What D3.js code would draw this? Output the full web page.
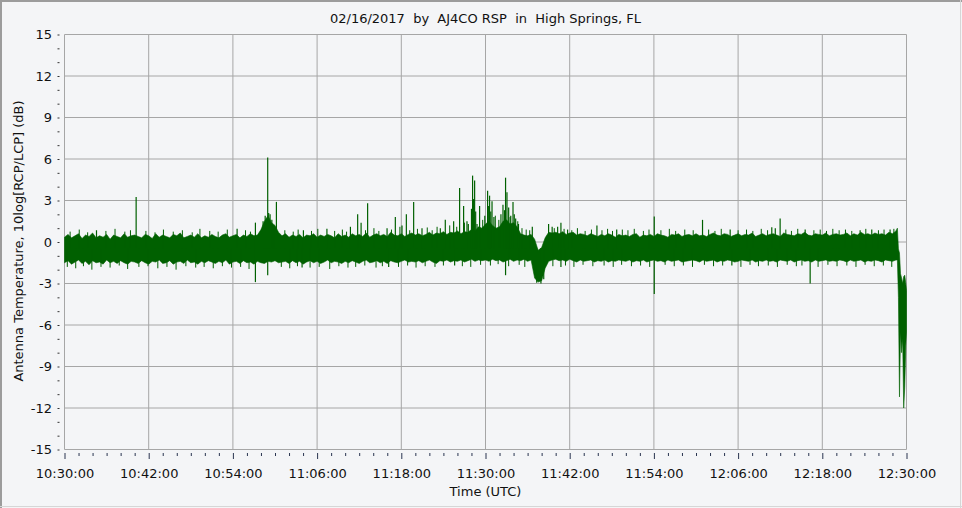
<!DOCTYPE html>
<html><head><meta charset="utf-8">
<script src="https://cdn.jsdelivr.net/npm/d3@7"></script>
<style>
html,body{margin:0;padding:0;background:#f4f5f7;}
svg{display:block;}
text{font-family:"DejaVu Sans",Verdana,sans-serif;fill:#111;}
</style></head><body>
<svg id="chart" width="962" height="508"></svg>
<script>
const chartTitle = "02/16/2017  by  AJ4CO RSP  in  High Springs, FL";
const xAxisTitle = "Time (UTC)";
const yAxisTitle = "Antenna Temperature, 10log[RCP/LCP] (dB)";
const xTickLabels = ["10:30:00","10:42:00","10:54:00","11:06:00","11:18:00","11:30:00","11:42:00","11:54:00","12:06:00","12:18:00","12:30:00"];
const yTickValues = [15,12,9,6,3,0,-3,-6,-9,-12,-15];

// band envelope, one sample every half minute from 10:30:00 (minutes offset)
const bandStepMinutes = 0.5;
const bandHigh = [
0.35,0.55,0.3,0.45,0.6,0.25,0.5,0.4,0.65,0.3,0.45,0.35,0.55,0.2,0.5,0.4,0.3,0.6,0.35,0.45,
0.5,0.4,0.3,0.55,0.45,0.25,0.6,0.35,0.5,0.4,0.3,0.55,0.45,0.65,0.3,0.4,0.5,0.35,0.6,0.3,
0.45,0.35,0.55,0.4,0.3,0.5,0.6,0.35,0.45,0.55,0.3,0.5,0.4,0.6,0.45,0.5,0.9,1.5,1.9,1.4,
1.2,0.7,0.45,0.6,0.35,0.5,0.4,0.55,0.3,0.5,0.45,0.6,0.35,0.5,0.4,0.55,0.45,0.3,0.6,0.4,
0.5,0.35,0.6,0.45,0.55,0.4,0.65,0.35,0.5,0.6,0.45,0.55,0.4,0.7,0.5,0.45,0.6,0.4,0.55,0.65,
0.5,0.6,0.45,0.55,0.7,0.5,0.65,0.6,0.75,0.55,0.7,0.65,0.8,0.6,0.75,0.7,0.9,0.8,1.1,1.0,
1.3,1.5,1.2,1.0,1.1,1.5,1.6,1.3,1.4,1.1,0.6,0.5,0.45,0.55,0.2,-0.6,-0.4,0.3,0.7,0.65,
0.7,0.6,0.75,0.55,0.65,0.7,0.5,0.6,0.55,0.45,0.6,0.5,0.4,0.55,0.45,0.6,0.5,0.35,0.55,0.45,
0.5,0.4,0.55,0.6,0.35,0.5,0.45,0.55,0.4,0.6,0.5,0.45,0.35,0.55,0.5,0.6,0.4,0.5,0.55,0.45,
0.6,0.45,0.5,0.4,0.55,0.65,0.5,0.45,0.6,0.55,0.4,0.5,0.6,0.45,0.55,0.5,0.65,0.4,0.5,0.6,
0.45,0.55,0.6,0.5,0.4,0.65,0.55,0.5,0.45,0.6,0.55,0.7,0.5,0.45,0.6,0.55,0.5,0.65,0.45,0.55,
0.6,0.5,0.55,0.65,0.45,0.6,0.5,0.7,0.55,0.6,0.5,0.65,0.55,0.6,0.5,0.7,0.6,0.8];
const bandLow = [
-1.5,-1.35,-1.6,-1.45,-1.3,-1.55,-1.4,-1.65,-1.35,-1.5,-1.45,-1.6,-1.3,-1.5,-1.4,-1.55,-1.35,-1.5,-1.6,-1.4,
-1.45,-1.55,-1.35,-1.5,-1.6,-1.4,-1.45,-1.3,-1.55,-1.5,-1.35,-1.6,-1.45,-1.4,-1.55,-1.3,-1.5,-1.45,-1.6,-1.4,
-1.5,-1.35,-1.45,-1.55,-1.4,-1.5,-1.3,-1.6,-1.45,-1.4,-1.55,-1.35,-1.5,-1.45,-1.6,-1.4,-1.5,-1.55,-1.4,-1.45,
-1.35,-1.5,-1.45,-1.4,-1.55,-1.35,-1.5,-1.4,-1.6,-1.45,-1.35,-1.5,-1.4,-1.55,-1.45,-1.3,-1.5,-1.4,-1.45,-1.55,
-1.4,-1.5,-1.35,-1.45,-1.55,-1.4,-1.3,-1.5,-1.45,-1.35,-1.5,-1.4,-1.55,-1.35,-1.45,-1.5,-1.4,-1.3,-1.45,-1.4,
-1.45,-1.35,-1.5,-1.4,-1.3,-1.45,-1.55,-1.35,-1.4,-1.3,-1.45,-1.35,-1.4,-1.3,-1.45,-1.35,-1.25,-1.4,-1.3,-1.35,
-1.3,-1.4,-1.25,-1.35,-1.3,-1.45,-1.35,-1.25,-1.4,-1.3,-1.35,-1.25,-1.4,-1.3,-2.6,-2.9,-2.8,-1.9,-1.4,-1.3,
-1.25,-1.35,-1.3,-1.4,-1.25,-1.35,-1.45,-1.3,-1.4,-1.35,-1.3,-1.45,-1.35,-1.4,-1.3,-1.45,-1.35,-1.4,-1.3,-1.35,
-1.4,-1.3,-1.45,-1.35,-1.4,-1.3,-1.45,-1.35,-1.3,-1.4,-1.35,-1.45,-1.3,-1.4,-1.35,-1.3,-1.45,-1.4,-1.35,-1.3,
-1.35,-1.45,-1.3,-1.4,-1.35,-1.3,-1.45,-1.35,-1.4,-1.3,-1.35,-1.45,-1.4,-1.3,-1.35,-1.4,-1.3,-1.45,-1.35,-1.4,
-1.3,-1.4,-1.35,-1.45,-1.3,-1.35,-1.4,-1.3,-1.45,-1.35,-1.3,-1.4,-1.35,-1.45,-1.3,-1.4,-1.35,-1.3,-1.4,-1.35,
-1.4,-1.3,-1.35,-1.45,-1.3,-1.4,-1.35,-1.3,-1.45,-1.35,-1.4,-1.3,-1.35,-1.45,-1.3,-1.35,-1.4,-1.3];

// final drop near 12:29-12:30
const tailMinutes = [118.7,118.85,119.0,119.15,119.3,119.45,119.6,119.75,119.9,120];
const tailHigh = [1.0,-0.5,-0.8,-2.3,-2.6,-3.0,-2.5,-2.4,-3.0,-3.5];
const tailLow = [-1.3,-4.0,-11.2,-6.5,-8.0,-7.0,-12.0,-10.5,-7.5,-6.5];

// isolated spikes (minutes after 10:30:00, dB)
const spikeMinutes = [4.56,10.21,24.6,27.21,28.6,28.96,29.3,29.81,30.2,34.05,37.4,40.75,41.78,42.27,43.2,45.97,47.15,48.1,48.72,49.76,
50.95,53.56,54.27,55.46,56.31,56.88,57.36,57.55,58.16,58.45,58.79,59.16,60.3,60.58,60.93,62.49,62.86,63.06,63.92,64.1,
66.67,68.99,69.5,70.28,70.75,71.7,75.88,78.7,84.05,90.93,94.87,100.8,101.3,101.99,105.56,113.39,115.05,117.66,
27.21,28.96,33.86,46.2,55.6,62.86,70.75,84.05,95.11,106.27,67.3,67.9,68.3,
28.3,28.8,29.1,29.55,58.0,58.3,58.6,59.9,60.45,60.75,61.2,62.2,62.7,63.3,63.6,64.3,64.7];
const spikeValues = [0.85,3.25,0.95,1.4,1.9,6.1,2.0,1.0,2.9,0.85,0.95,1.1,2.0,1.4,2.8,1.0,1.8,1.2,2.0,2.9,
1.0,1.0,1.6,1.5,3.9,2.6,1.5,1.3,4.8,4.45,1.3,2.6,3.7,3.35,2.95,2.7,4.65,3.6,2.9,2.0,
1.1,1.3,1.1,1.1,1.4,0.9,1.2,0.9,1.85,1.6,0.9,1.07,1.0,1.7,0.9,0.85,0.9,0.9,
-2.9,-2.4,-1.85,-1.8,-1.7,-2.4,-1.8,-3.75,-1.7,-3.0,-2.95,-3.0,-2.7,
1.5,1.7,2.1,1.6,2.4,3.1,2.2,1.9,2.6,2.2,1.8,2.0,2.3,2.5,1.9,1.7,1.3];

// small noise excursions along the band edges
const fuzzUpMinutes = [0.8,2.1,3.3,5.9,7.2,8.6,9.4,11.6,12.9,14.1,15.5,16.8,18.2,19.3,20.7,21.9,23.2,25.8,26.5,31.4,
32.6,33.3,35.2,36.1,38.5,39.6,40.2,42.9,44.1,44.8,46.6,47.8,49.2,50.3,51.7,52.4,53.1,54.9,55.9,57.0,
59.6,61.4,61.9,63.5,64.6,65.2,65.8,66.3,69.8,71.2,72.3,73.1,74.2,75.1,76.6,77.4,78.1,79.5,80.3,81.2,
82.5,83.3,85.0,86.2,87.1,88.4,89.6,91.8,92.7,93.6,96.0,97.2,98.1,99.3,100.2,102.8,103.6,104.5,106.8,107.7,
108.6,109.5,110.4,111.3,112.2,114.2,116.0,116.8,118.2];
const fuzzUpValues = [0.75,0.9,0.7,0.8,0.95,0.75,0.85,0.8,0.7,0.9,0.75,0.85,0.7,0.95,0.8,0.75,0.9,0.85,0.75,0.85,
0.75,0.9,0.8,0.95,0.8,0.9,0.75,0.85,1.0,0.8,0.9,1.1,0.85,0.95,1.05,0.85,1.1,1.2,1.1,1.4,
1.6,1.9,1.6,1.8,1.5,1.0,0.9,0.85,1.0,0.95,0.85,1.0,0.8,0.9,0.85,0.95,0.8,0.9,0.85,0.95,
0.8,0.9,0.85,0.95,0.8,0.9,0.85,0.9,0.8,0.95,0.85,0.9,0.8,0.95,0.85,0.9,0.8,0.95,0.85,0.9,
0.8,0.95,0.85,0.9,0.8,0.95,0.85,0.9,0.95];
const fuzzDownMinutes = [0.4,1.6,2.7,3.9,5.2,6.5,7.8,9.0,10.6,11.9,13.3,14.6,15.9,17.3,18.7,19.9,21.2,22.5,23.8,25.1,
26.3,30.9,32.1,33.2,35.0,36.3,37.8,39.1,40.4,41.5,42.8,44.4,45.3,47.6,48.9,50.1,51.4,52.8,54.0,56.7,
57.9,59.3,60.7,61.8,63.3,64.8,65.6,69.6,71.4,72.6,73.9,75.3,76.9,78.2,79.4,80.8,82.1,83.4,85.6,86.9,
88.2,89.5,91.2,92.5,93.8,96.4,97.7,98.9,100.3,101.6,103.0,104.3,105.1,107.4,108.8,110.1,111.5,112.8,114.1,115.4,
116.7,117.9];
const fuzzDownValues = [-1.8,-1.9,-1.75,-2.0,-1.8,-1.85,-1.7,-1.95,-1.8,-1.75,-1.9,-1.8,-2.0,-1.75,-1.85,-1.8,-1.9,-1.75,-1.85,-1.8,
-1.95,-1.8,-1.9,-1.75,-1.85,-1.8,-1.95,-1.75,-1.85,-1.8,-1.7,-1.85,-1.75,-1.8,-1.7,-1.85,-1.75,-1.8,-1.7,-1.75,
-1.8,-1.65,-1.7,-1.6,-1.75,-1.65,-1.8,-1.75,-1.7,-1.8,-1.65,-1.75,-1.7,-1.8,-1.65,-1.75,-1.7,-1.8,-1.65,-1.75,
-1.7,-1.8,-1.65,-1.75,-1.7,-1.8,-1.65,-1.75,-1.7,-1.8,-1.65,-1.75,-1.7,-1.8,-1.65,-1.75,-1.7,-1.8,-1.65,-1.75,
-1.7,-1.8];

const lineColor = "#006000";
const W = 962, H = 508;
const parseT = d3.utcParse("%H:%M:%S");
const t0 = parseT(xTickLabels[0]);
const tEnd = parseT(xTickLabels[xTickLabels.length-1]);
const toDate = m => new Date(t0.getTime() + m*60000);

const x = d3.scaleUtc().domain([t0, tEnd]).range([64.5, 906.5]);
const y = d3.scaleLinear().domain([-15, 15]).range([449.5, 34.5]);

const svg = d3.select("#chart");
// frame
svg.append("rect").attr("x",0).attr("y",0).attr("width",W).attr("height",H).attr("fill","#f4f5f7");
svg.append("line").attr("x1",1).attr("x2",W).attr("y1",1).attr("y2",1).attr("stroke","#9c9c9c").attr("stroke-width",2);
svg.append("line").attr("x1",1).attr("x2",1).attr("y1",0).attr("y2",H).attr("stroke","#9c9c9c").attr("stroke-width",2);
svg.append("line").attr("x1",960.5).attr("x2",960.5).attr("y1",0).attr("y2",H).attr("stroke","#d6d6d6");
svg.append("line").attr("x1",0).attr("x2",W).attr("y1",506.5).attr("y2",506.5).attr("stroke","#d6d6d6");

// grid
const grid = svg.append("g");
const xTickDates = xTickLabels.map(parseT);
grid.selectAll("line.vx").data(xTickDates).join("line")
  .attr("x1", d=>x(d)).attr("x2", d=>x(d)).attr("y1", y(15)).attr("y2", y(-15))
  .attr("stroke","#a6a6a6");
grid.selectAll("line.hy").data(yTickValues).join("line")
  .attr("y1", d=>y(d)).attr("y2", d=>y(d)).attr("x1", x(t0)).attr("x2", x(tEnd))
  .attr("stroke","#a6a6a6");

// data
svg.append("clipPath").attr("id","clip").append("rect")
  .attr("x",64).attr("y",34).attr("width",843).attr("height",416);
const dataG = svg.append("g").attr("clip-path","url(#clip)");
const band = bandHigh.map((h,i)=>({t:i*bandStepMinutes, hi:h, lo:bandLow[i]}))
  .concat(tailMinutes.map((t,i)=>({t:t, hi:tailHigh[i], lo:tailLow[i]})));
const area = d3.area().x(d=>x(toDate(d.t))).y0(d=>y(d.lo)).y1(d=>y(d.hi));
dataG.append("path").datum(band).attr("d", area).attr("fill", lineColor)
  .attr("stroke", lineColor).attr("stroke-width", 0.6);

const fuzz = fuzzUpMinutes.map((t,i)=>({t:t, v:fuzzUpValues[i]}))
  .concat(fuzzDownMinutes.map((t,i)=>({t:t, v:fuzzDownValues[i]})));
dataG.selectAll("line.fz").data(fuzz).join("line")
  .attr("x1", d=>x(toDate(d.t))).attr("x2", d=>x(toDate(d.t)))
  .attr("y1", y(-0.45)).attr("y2", d=>y(d.v))
  .attr("stroke", lineColor).attr("stroke-width", 1);

const spikes = spikeMinutes.map((t,i)=>({t:t, v:spikeValues[i]}));
dataG.selectAll("line.sp").data(spikes).join("line")
  .attr("x1", d=>x(toDate(d.t))).attr("x2", d=>x(toDate(d.t)))
  .attr("y1", y(-0.45)).attr("y2", d=>y(d.v))
  .attr("stroke", lineColor).attr("stroke-width", 1.2);

// y axis
const yMinor = d3.range(-15, 16, 1).filter(v => v % 3 !== 0);
const yAxisMajor = d3.axisLeft(y).tickValues(yTickValues).tickSize(2).tickPadding(5.5).tickFormat(d => String(d));
const yAxisMinor = d3.axisLeft(y).tickValues(yMinor).tickSize(2).tickFormat("");
const gy = svg.append("g").attr("transform","translate(59.5,0)").call(yAxisMajor);
const gy2 = svg.append("g").attr("transform","translate(59.5,0)").call(yAxisMinor);
[gy, gy2].forEach(g => { g.select(".domain").remove(); g.selectAll("line").attr("stroke","#333"); });
gy.selectAll("text").attr("font-size",13).attr("font-family",null).style("fill","#111");

// x axis
const xMinor = d3.range(0, 121, 2).filter(m => m % 12 !== 0).map(toDate);
const xAxisMajor = d3.axisBottom(x).tickValues(xTickDates).tickSize(6).tickPadding(10).tickFormat((d,i)=>xTickLabels[i]);
const xAxisMinor = d3.axisBottom(x).tickValues(xMinor).tickSize(3).tickFormat("");
const gx = svg.append("g").attr("transform","translate(0,453)").call(xAxisMajor);
const gx2 = svg.append("g").attr("transform","translate(0,453)").call(xAxisMinor);
[gx, gx2].forEach(g => { g.select(".domain").remove(); g.selectAll("line").attr("stroke","#2a3550"); });
gx.selectAll("text").attr("font-size",13).attr("font-family",null).style("fill","#111");

// titles
svg.append("text").attr("x",485.5).attr("y",23).attr("text-anchor","middle")
  .attr("font-size",13).style("white-space","pre").attr("xml:space","preserve").text(chartTitle);
svg.append("text").attr("x",485.5).attr("y",496).attr("text-anchor","middle")
  .attr("font-size",13).text(xAxisTitle);
svg.append("text").attr("transform","translate(23,241) rotate(-90)").attr("text-anchor","middle")
  .attr("font-size",13).text(yAxisTitle);
</script>
</body></html>
